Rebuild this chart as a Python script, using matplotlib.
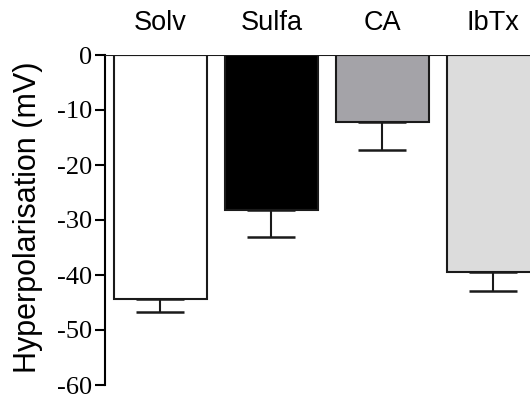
import matplotlib
matplotlib.use("Agg")
import matplotlib.pyplot as plt
import matplotlib.transforms as mtransforms

categories = ["Solv", "Sulfa", "CA", "IbTx"]
values = [-44.4, -28.2, -12.2, -39.4]
errors = [2.4, 4.8, 5.1, 3.5]
colors = ["#ffffff", "#000000", "#a4a3a8", "#dcdcdc"]
yticks = [0, -10, -20, -30, -40, -50, -60]

fig = plt.figure(figsize=(5.30, 3.97), dpi=100)
ax = fig.add_axes([105/530, 1-385/397, 1-105/530, (385-55)/397])

x = list(range(len(categories)))
ax.bar(x, values, width=0.84, color=colors, edgecolor="#1a1a1a", linewidth=1.5, zorder=2)
ax.errorbar(x, values, yerr=[errors, [0]*len(errors)], fmt="none", ecolor="#1a1a1a",
            elinewidth=1.5, capsize=17, capthick=1.8, zorder=1)
ax.axhline(0, color="#1a1a1a", lw=1.5, zorder=3)

ax.set_xlim(-0.5, 3.33)
ax.set_ylim(-60, 0)
ax.set_yticks(yticks)
ax.set_yticklabels([str(t) for t in yticks], family="Liberation Serif", fontsize=19)
ax.tick_params(axis="y", length=7, width=1.5, pad=2)
for s in ["top", "right", "bottom"]:
    ax.spines[s].set_visible(False)
ax.spines["left"].set_linewidth(1.5)
ax.spines["left"].set_bounds(-60, 0)

ax.xaxis.tick_top()
ax.set_xticks(x)
ax.set_xticklabels(categories, family="Liberation Sans", fontsize=19.5)
ax.tick_params(axis="x", length=0, pad=14)

fig.text(28.5/530, 1-217/397, "Hyperpolarisation (mV)", rotation=90, family="Liberation Sans",
         fontsize=22, ha="center", va="center")

fig.savefig("out.png", dpi=100)
